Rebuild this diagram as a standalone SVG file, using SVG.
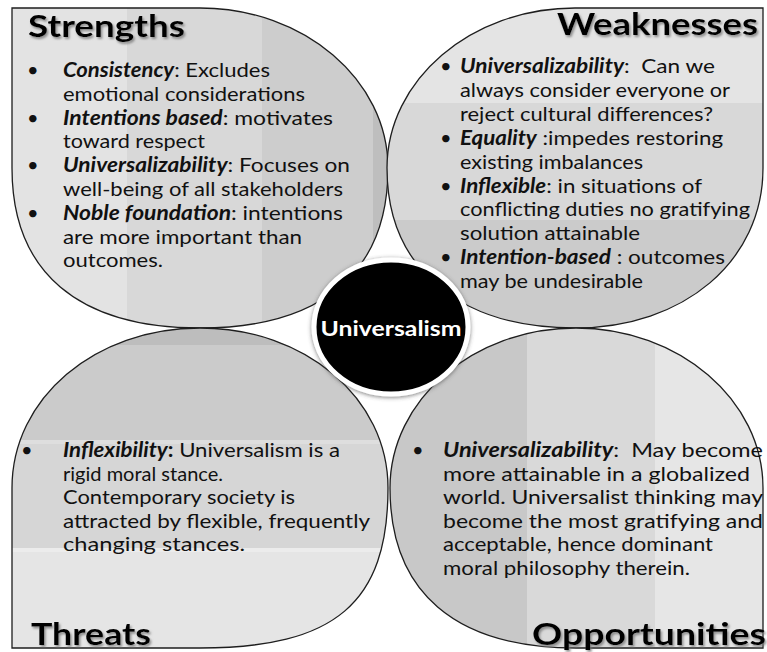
<svg xmlns="http://www.w3.org/2000/svg" width="767" height="652" viewBox="0 0 767 652">
  <defs>
    <style>
      .body { font-family: Lato, "Open Sans", sans-serif; font-size: 20px; fill: #111; }
      .bi { font-weight: 700; font-style: italic; }
      .b { font-weight: 700; }
      .title { font-family: Lato, "Open Sans", sans-serif; font-weight: 700; font-size: 31px; fill: #000; filter: url(#titleShadow); }
      .blob { stroke: #1e1e1e; stroke-width: 1.3; }
      .hub-label { font-family: Lato, "Open Sans", sans-serif; font-weight: 700; font-size: 20px; fill: #fff; }
    </style>
    <filter id="titleShadow" x="-10%" y="-30%" width="120%" height="160%">
      <feDropShadow dx="1.5" dy="2" stdDeviation="1.2" flood-color="#777" flood-opacity="0.8"/>
    </filter>
    <filter id="hubShadow" x="-20%" y="-20%" width="140%" height="140%">
      <feDropShadow dx="0" dy="1" stdDeviation="2" flood-color="#444" flood-opacity="0.7"/>
    </filter>
    <!-- banded fills, darker toward the hub -->
    <linearGradient id="gStrengths" gradientUnits="userSpaceOnUse" x1="12" y1="0" x2="392" y2="0">
      <stop offset="0" stop-color="#e3e3e3"/>
      <stop offset="0.303" stop-color="#e3e3e3"/>
      <stop offset="0.303" stop-color="#d8d8d8"/>
      <stop offset="0.658" stop-color="#d8d8d8"/>
      <stop offset="0.658" stop-color="#cdcdcd"/>
      <stop offset="0.95" stop-color="#cdcdcd"/>
      <stop offset="0.95" stop-color="#bebebe"/>
      <stop offset="1" stop-color="#bebebe"/>
    </linearGradient>
    <linearGradient id="gWeaknesses" gradientUnits="userSpaceOnUse" x1="0" y1="8" x2="0" y2="328">
      <stop offset="0" stop-color="#e4e4e4"/>
      <stop offset="0.297" stop-color="#e4e4e4"/>
      <stop offset="0.297" stop-color="#d8d8d8"/>
      <stop offset="0.6625" stop-color="#d8d8d8"/>
      <stop offset="0.6625" stop-color="#cbcbcb"/>
      <stop offset="1" stop-color="#cbcbcb"/>
    </linearGradient>
    <linearGradient id="gThreats" gradientUnits="userSpaceOnUse" x1="0" y1="328" x2="0" y2="648">
      <stop offset="0" stop-color="#bdbdbd"/>
      <stop offset="0.053" stop-color="#bdbdbd"/>
      <stop offset="0.053" stop-color="#cbcbcb"/>
      <stop offset="0.35" stop-color="#cbcbcb"/>
      <stop offset="0.35" stop-color="#dedede"/>
      <stop offset="0.362" stop-color="#dedede"/>
      <stop offset="0.362" stop-color="#d6d6d6"/>
      <stop offset="0.6875" stop-color="#d6d6d6"/>
      <stop offset="0.6875" stop-color="#ececec"/>
      <stop offset="0.7" stop-color="#ececec"/>
      <stop offset="0.7" stop-color="#e5e5e5"/>
      <stop offset="1" stop-color="#e5e5e5"/>
    </linearGradient>
    <linearGradient id="gOpportunities" gradientUnits="userSpaceOnUse" x1="390" y1="0" x2="763" y2="0">
      <stop offset="0" stop-color="#c8c8c8"/>
      <stop offset="0.367" stop-color="#c8c8c8"/>
      <stop offset="0.367" stop-color="#d9d9d9"/>
      <stop offset="0.71" stop-color="#d9d9d9"/>
      <stop offset="0.71" stop-color="#e6e6e6"/>
      <stop offset="1" stop-color="#e6e6e6"/>
    </linearGradient>
  </defs>

  <rect width="767" height="652" fill="#fff"/>

  <!-- Strengths: square corner top-left -->
  <g id="strengths">
    <path class="blob" fill="url(#gStrengths)" d="M12,8 L200,8 C304,8 388,80 388,168 C388,272 322,328 200,328 C78,328 12,272 12,168 Z"/>
    <text class="title" x="28" y="37" textLength="157" lengthAdjust="spacingAndGlyphs">Strengths</text>
    <g class="body">
      <text x="27" y="77">•</text>
      <text x="63" y="77" textLength="207" lengthAdjust="spacingAndGlyphs"><tspan class="bi">Consistency</tspan>: Excludes</text>
      <text x="63" y="100.8" textLength="242" lengthAdjust="spacingAndGlyphs">emotional considerations</text>
      <text x="27" y="124.6">•</text>
      <text x="63" y="124.6" textLength="270" lengthAdjust="spacingAndGlyphs"><tspan class="bi">Intentions based</tspan>: motivates</text>
      <text x="63" y="148.4" textLength="142" lengthAdjust="spacingAndGlyphs">toward respect</text>
      <text x="27" y="172.2">•</text>
      <text x="63" y="172.2" textLength="287" lengthAdjust="spacingAndGlyphs"><tspan class="bi">Universalizability</tspan>: Focuses on</text>
      <text x="63" y="196" textLength="280" lengthAdjust="spacingAndGlyphs">well-being of all stakeholders</text>
      <text x="27" y="219.8">•</text>
      <text x="63" y="219.8" textLength="280" lengthAdjust="spacingAndGlyphs"><tspan class="bi">Noble foundation</tspan>: intentions</text>
      <text x="63" y="243.6" textLength="239" lengthAdjust="spacingAndGlyphs">are more important than</text>
      <text x="63" y="267.4" textLength="100" lengthAdjust="spacingAndGlyphs">outcomes.</text>
    </g>
  </g>

  <!-- Weaknesses: square corner top-right -->
  <g id="weaknesses">
    <path class="blob" fill="url(#gWeaknesses)" d="M763,8 L763,168 C763,261 684,328 575,328 C458,328 387,267 387,168 C387,80 471,8 575,8 Z"/>
    <text class="title" x="557" y="35" textLength="201" lengthAdjust="spacingAndGlyphs">Weaknesses</text>
    <g class="body">
      <text x="440" y="73">•</text>
      <text x="460" y="73" textLength="255" lengthAdjust="spacingAndGlyphs" xml:space="preserve"><tspan class="bi">Universalizability</tspan>:  Can we</text>
      <text x="460" y="96.9" textLength="270" lengthAdjust="spacingAndGlyphs">always consider everyone or</text>
      <text x="460" y="120.8" textLength="253" lengthAdjust="spacingAndGlyphs">reject cultural differences?</text>
      <text x="440" y="144.7">•</text>
      <text x="460" y="144.7" textLength="263" lengthAdjust="spacingAndGlyphs"><tspan class="bi">Equality</tspan> :impedes restoring</text>
      <text x="460" y="168.6" textLength="183" lengthAdjust="spacingAndGlyphs">existing imbalances</text>
      <text x="440" y="192.5">•</text>
      <text x="460" y="192.5" textLength="242" lengthAdjust="spacingAndGlyphs"><tspan class="bi">Inflexible</tspan>: in situations of</text>
      <text x="460" y="216.4" textLength="290" lengthAdjust="spacingAndGlyphs">conflicting duties no gratifying</text>
      <text x="460" y="240.3" textLength="180" lengthAdjust="spacingAndGlyphs">solution attainable</text>
      <text x="440" y="264.2">•</text>
      <text x="460" y="264.2" textLength="265" lengthAdjust="spacingAndGlyphs"><tspan class="bi">Intention-based</tspan> : outcomes</text>
      <text x="460" y="288" textLength="183" lengthAdjust="spacingAndGlyphs">may be undesirable</text>
    </g>
  </g>

  <!-- Threats: square corner bottom-left -->
  <g id="threats">
    <path class="blob" fill="url(#gThreats)" d="M12,648 L12,488 C12,398 95,328 200,328 C305,328 388,398 388,488 C388,603 335,648 200,648 Z"/>
    <text class="title" x="31" y="645" textLength="120" lengthAdjust="spacingAndGlyphs">Threats</text>
    <g class="body">
      <text x="21" y="457">•</text>
      <text x="63" y="457" textLength="277" lengthAdjust="spacingAndGlyphs"><tspan class="bi">Inflexibility</tspan><tspan class="b">:</tspan> Universalism is a</text>
      <text x="63" y="480.5" textLength="160" lengthAdjust="spacingAndGlyphs">rigid moral stance.</text>
      <text x="63" y="504" textLength="232" lengthAdjust="spacingAndGlyphs">Contemporary society is</text>
      <text x="63" y="527.5" textLength="307" lengthAdjust="spacingAndGlyphs">attracted by flexible, frequently</text>
      <text x="63" y="551" textLength="182" lengthAdjust="spacingAndGlyphs">changing stances.</text>
    </g>
  </g>

  <!-- Opportunities: square corner bottom-right -->
  <g id="opportunities">
    <path class="blob" fill="url(#gOpportunities)" d="M763,648 L576,648 C455,648 390,592 390,488 C390,400 473,328 576,328 C679,328 763,400 763,488 Z"/>
    <text class="title" x="532" y="645" textLength="234" lengthAdjust="spacingAndGlyphs">Opportunities</text>
    <g class="body">
      <text x="412" y="457">•</text>
      <text x="443" y="457" textLength="320" lengthAdjust="spacingAndGlyphs" xml:space="preserve"><tspan class="bi">Universalizability</tspan>:  May become</text>
      <text x="443" y="480.5" textLength="307" lengthAdjust="spacingAndGlyphs">more attainable in a globalized</text>
      <text x="443" y="504" textLength="320" lengthAdjust="spacingAndGlyphs">world. Universalist thinking may</text>
      <text x="443" y="527.5" textLength="320" lengthAdjust="spacingAndGlyphs">become the most gratifying and</text>
      <text x="443" y="551" textLength="270" lengthAdjust="spacingAndGlyphs">acceptable, hence dominant</text>
      <text x="443" y="574.5" textLength="247" lengthAdjust="spacingAndGlyphs">moral philosophy therein.</text>
    </g>
  </g>

  <!-- central hub -->
  <g id="universalism">
    <ellipse cx="391" cy="327" rx="77" ry="67" fill="#000" stroke="#fff" stroke-width="5" filter="url(#hubShadow)"/>
    <text class="hub-label" x="391" y="336" text-anchor="middle" textLength="141" lengthAdjust="spacingAndGlyphs">Universalism</text>
  </g>
</svg>
